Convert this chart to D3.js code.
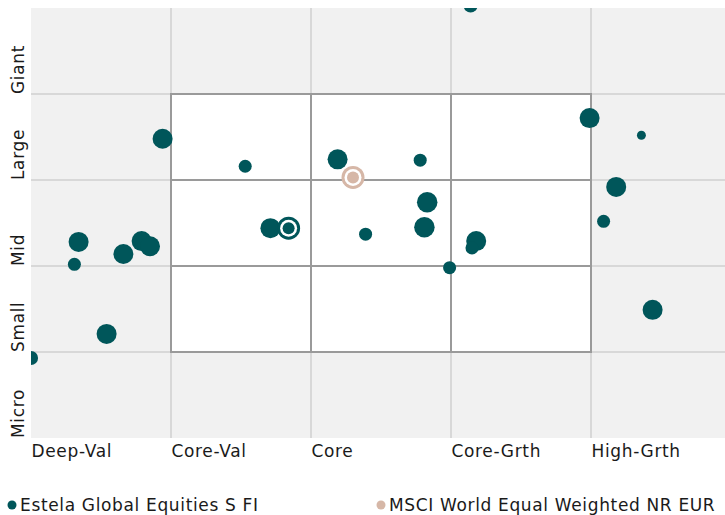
<!DOCTYPE html>
<html>
<head>
<meta charset="utf-8">
<script src="https://cdn.jsdelivr.net/npm/d3@7"></script>
<style>
  body { margin: 0; background: #fff; }
  text { font-family: "DejaVu Sans", Verdana, sans-serif; fill: #1a1a1a; letter-spacing: 0.65px; }
</style>
</head>
<body>
<div id="chart"></div>
<script>
// style categories
let styleLabels = ["Deep-Val", "Core-Val", "Core", "Core-Grth", "High-Grth"];
let sizeLabels = ["Micro", "Small", "Mid", "Large", "Giant"];

// holdings: style score (x), size score (y), weight
let holdX = [3.14, 3.99, 4.36, 0.94, 1.53, 2.19, 2.78, 4.18, 2.83, 4.09, 2.81, 2.39, 3.18, 3.15, 2.99, 1.71, 0.34, 0.31, 0.66, 0.79, 0.85, 0.54, 4.44, 0.0];
let holdY = [5.03, 3.72, 3.52, 3.48, 3.16, 3.24, 3.23, 2.92, 2.74, 2.52, 2.45, 2.37, 2.29, 2.21, 1.98, 2.44, 2.28, 2.02, 2.14, 2.29, 2.23, 1.21, 1.49, 0.93];
let holdW = [2.0, 4.0, 0.8, 4.0, 1.7, 4.0, 1.7, 4.0, 4.2, 1.7, 4.2, 1.7, 4.0, 1.7, 1.7, 4.0, 4.0, 1.7, 4.0, 4.0, 4.0, 4.0, 4.0, 2.0];

// centroids
let fundName = "Estela Global Equities S FI";
let fundCentroid = [1.84, 2.44];
let benchName = "MSCI World Equal Weighted NR EUR";
let benchCentroid = [2.30, 3.03];

// style box grid (data units)
let boxCols = [1, 2, 3, 4];
let boxRows = [1, 2, 3, 4];

let width = 725, height = 515;
let teal = "#00565a", beige = "#d6b7a7";

let svg = d3.select("#chart").append("svg")
    .attr("width", width)
    .attr("height", height);

let x = d3.scaleLinear().domain([0, 5]).range([31, 731]);
let y = d3.scaleLinear().domain([0, 5]).range([438, 8]);
let r = d3.scaleSqrt().domain([0, 4]).range([0, 10]);

svg.append("clipPath").attr("id", "plot-clip")
    .append("rect")
    .attr("x", x(0)).attr("y", y(5))
    .attr("width", width - x(0)).attr("height", y(0) - y(5));

// background
svg.append("rect")
    .attr("x", x(0)).attr("y", y(5))
    .attr("width", width - x(0))
    .attr("height", y(0) - y(5))
    .attr("fill", "#f1f1f1");

let grid = svg.append("g").attr("clip-path", "url(#plot-clip)");
grid.selectAll(".vgrid").data([1, 2, 3, 4]).join("line")
    .attr("x1", d => x(d)).attr("x2", d => x(d))
    .attr("y1", y(5)).attr("y2", y(0))
    .attr("stroke", "#d8d8d8").attr("stroke-width", 2);
grid.selectAll(".hgrid").data([1, 2, 3, 4]).join("line")
    .attr("x1", x(0)).attr("x2", width)
    .attr("y1", d => y(d)).attr("y2", d => y(d))
    .attr("stroke", "#d8d8d8").attr("stroke-width", 2);

// the 3x3 style box
let box = svg.append("g");
box.append("rect")
    .attr("x", x(1)).attr("y", y(4))
    .attr("width", x(4) - x(1)).attr("height", y(1) - y(4))
    .attr("fill", "#fff");
box.selectAll(".bv").data(boxCols).join("line")
    .attr("x1", d => x(d)).attr("x2", d => x(d))
    .attr("y1", y(4)).attr("y2", y(1))
    .attr("stroke", "#9a9a9a").attr("stroke-width", 2);
box.selectAll(".bh").data(boxRows).join("line")
    .attr("x1", x(1) - 1).attr("x2", x(4) + 1)
    .attr("y1", d => y(d)).attr("y2", d => y(d))
    .attr("stroke", "#9a9a9a").attr("stroke-width", 2);

// holdings
let holdings = holdX.map((d, i) => ({ x: d, y: holdY[i], w: holdW[i] }));
svg.append("g").attr("clip-path", "url(#plot-clip)")
    .selectAll("circle").data(holdings).join("circle")
    .attr("cx", d => x(d.x))
    .attr("cy", d => y(d.y))
    .attr("r", d => r(d.w))
    .attr("fill", teal);

// centroids (ring + dot)
let drawCentroid = (c, color) => {
    let g = svg.append("g").attr("transform", `translate(${x(c[0])},${y(c[1])})`);
    g.append("circle").attr("r", 11.5).attr("fill", color);
    g.append("circle").attr("r", 8.5).attr("fill", "#fff");
    g.append("circle").attr("r", 6).attr("fill", color);
};
drawCentroid(benchCentroid, beige);
drawCentroid(fundCentroid, teal);

// x axis labels
let xAxis = d3.axisBottom(x)
    .tickValues([0, 1, 2, 3, 4])
    .tickFormat((d, i) => styleLabels[i])
    .tickSize(0).tickPadding(0);
let gx = svg.append("g").attr("transform", `translate(0,${y(0)})`).call(xAxis);
gx.select(".domain").remove();
gx.selectAll("text")
    .attr("text-anchor", "start")
    .attr("dy", null)
    .attr("y", 19)
    .style("font-size", "17px")
    .style("font-family", "'DejaVu Sans', Verdana, sans-serif")
    .attr("fill", "#1a1a1a");

// y axis labels (rotated, starting at the bottom of each row)
svg.append("g").selectAll("text").data(sizeLabels).join("text")
    .attr("transform", (d, i) => `translate(24,${y(i)}) rotate(-90)`)
    .attr("text-anchor", "start")
    .style("font-size", "17px")
    .text(d => d);

// legend
let legend = [
    { name: fundName, color: teal, x: 12 },
    { name: benchName, color: beige, x: 381 }
];
let lg = svg.append("g").selectAll("g").data(legend).join("g")
    .attr("transform", d => `translate(${d.x},505)`);
lg.append("circle").attr("r", 4.5).attr("fill", d => d.color);
lg.append("text")
    .attr("x", 8).attr("dy", "0.35em")
    .style("font-size", "17px")
    .text(d => d.name);
</script>
</body>
</html>
